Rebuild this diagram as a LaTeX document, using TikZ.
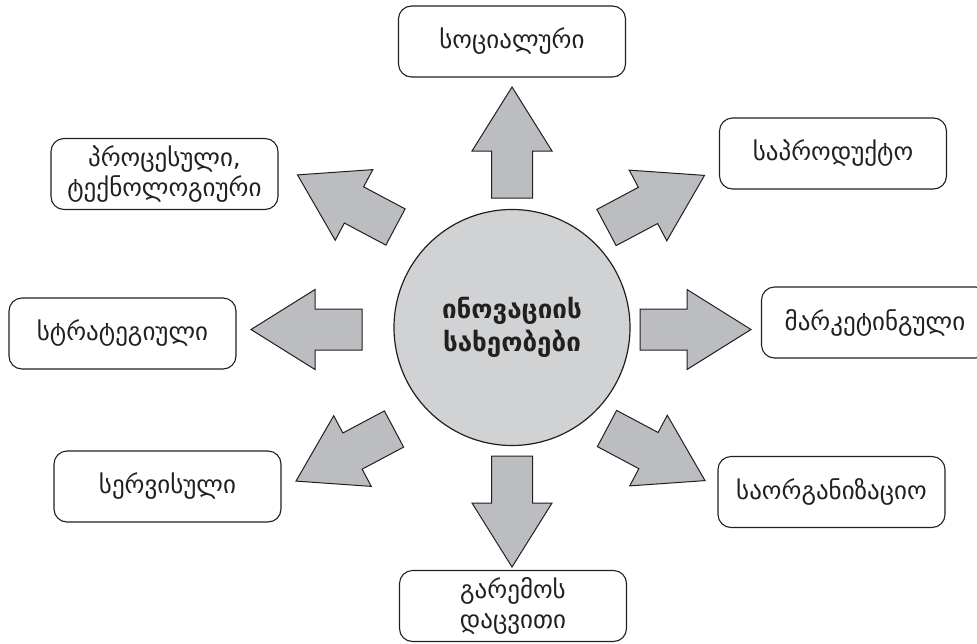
\documentclass[tikz,border=0pt]{standalone}
\usepackage{fontspec}
\newfontfamily\geo{DejaVu Sans}
\definecolor{circfill}{HTML}{D1D2D4}
\definecolor{arrfill}{HTML}{BCBDC0}
\definecolor{linec}{HTML}{231F20}
\newcommand\blockarr[2]{%
  \begin{scope}[shift={(#1)}, rotate=#2]
    \draw[blockarrow] (0,-20.5) -- (47,-20.5) -- (47,-40) -- (111,0) -- (47,40) -- (47,20.5) -- (0,20.5) -- cycle;
  \end{scope}}
\begin{document}
\begin{tikzpicture}[x=1pt,y=1pt,
  catbox/.style={draw=linec, line width=1.1pt, rounded corners=13pt, minimum width=227pt, minimum height=71pt, align=center, text=linec, font=\geo\fontsize{25}{30}\selectfont, inner sep=0pt},
  hub/.style={circle, draw=linec, line width=1.2pt, fill=circfill, minimum size=236pt, align=center, text=linec, font=\geo\bfseries\fontsize{26}{33}\selectfont},
  blockarrow/.style={draw=linec, line width=1pt, fill=arrfill, line join=miter}]
\useasboundingbox (0,0) rectangle (977,-643);
\node[hub] (hub) at (512,-327.5) {ინოვაციის\\სახეობები};
\node[catbox] (soc) at (512,-41.5) {სოციალური};
\node[catbox] (proc) at (164.5,-174) {პროცესული,\\ტექნოლოგიური};
\node[catbox] (prod) at (833,-153.5) {საპროდუქტო};
\node[catbox] (mark) at (875,-322.5) {მარკეტინგული};
\node[catbox] (strat) at (122.5,-333.5) {სტრატეგიული};
\node[catbox] (serv) at (167.5,-486.5) {სერვისული};
\node[catbox] (org) at (831.5,-492) {საორგანიზაციო};
\node[catbox] (env) at (513,-606) {გარემოს\\დაცვითი};
\coordinate (aN) at (512,-198);
\coordinate (aS) at (512,-456);
\coordinate (aW) at (362,-329.5);
\coordinate (aE) at (640,-329.5);
\coordinate (aNW) at (395.5,-227);
\coordinate (aNE) at (606.5,-227.5);
\coordinate (aSE) at (607,-428.5);
\coordinate (aSW) at (394,-429);
\blockarr{aN}{90}
\blockarr{aS}{-90}
\blockarr{aW}{180}
\blockarr{aE}{0}
\blockarr{aNW}{152}
\blockarr{aNE}{28}
\blockarr{aSE}{-28}
\blockarr{aSW}{208}
\end{tikzpicture}
\end{document}
